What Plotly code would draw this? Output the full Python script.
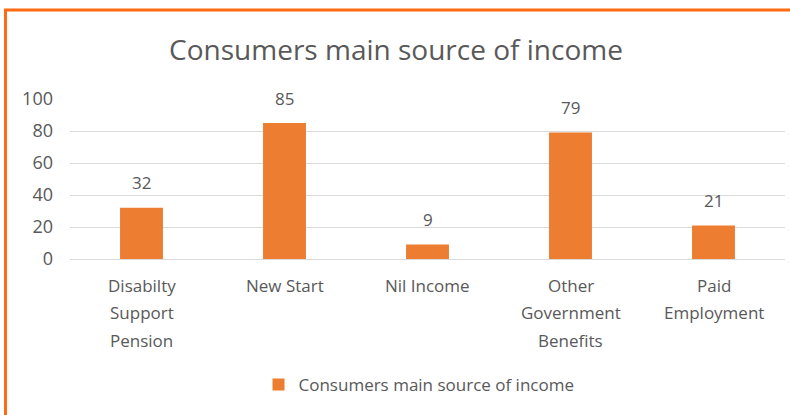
import plotly.graph_objects as go

# Chart data
categories = [
    "Disabilty Support Pension",
    "New Start",
    "Nil Income",
    "Other Government Benefits",
    "Paid Employment",
]
category_lines = [
    ["Disabilty", "Support", "Pension"],
    ["New Start"],
    ["Nil Income"],
    ["Other", "Government", "Benefits"],
    ["Paid", "Employment"],
]
values = [32, 85, 9, 79, 21]
series_name = "Consumers main source of income"
y_ticks = [0, 20, 40, 60, 80, 100]

BAR_COLOR = "#ED7D31"
TEXT_COLOR = "#595959"
GRID_COLOR = "#D9D9D9"
BORDER_COLOR = "#FF6A13"
FONT = "Open Sans"

fig = go.Figure()
fig.add_trace(go.Bar(
    x=categories,
    y=values,
    name=series_name,
    marker=dict(color=BAR_COLOR, line=dict(width=0)),
    showlegend=True,
))

# value labels above each bar
for c, v in zip(categories, values):
    fig.add_annotation(
        x=c, y=v, text=str(v), showarrow=False,
        yshift=25, font=dict(family=FONT, size=17, color=TEXT_COLOR),
    )

# category labels, one line at a time for wider line spacing
for c, lines in zip(categories, category_lines):
    for i, line in enumerate(lines):
        fig.add_annotation(
            x=c, y=0, yref="paper", text=line, showarrow=False,
            xanchor="center", yanchor="middle",
            yshift=-(26 + 27.5 * i),
            font=dict(family=FONT, size=17, color=TEXT_COLOR),
        )

# plot area geometry in pixels (for the outer frame lines)
W, H = 790, 415
L, R, T, B = 70, 5, 99, 156
pw, ph = W - L - R, H - T - B

def px_x(x):
    return (x - L) / pw

def px_y(y):
    return (H - B - y) / ph

# orange frame: top and left edges
fig.add_shape(type="line", xref="paper", yref="paper",
              x0=px_x(4), x1=px_x(800), y0=px_y(10), y1=px_y(10),
              line=dict(color=BORDER_COLOR, width=3))
fig.add_shape(type="line", xref="paper", yref="paper",
              x0=px_x(5.5), x1=px_x(5.5), y0=px_y(9), y1=px_y(420),
              line=dict(color=BORDER_COLOR, width=3))

fig.update_layout(
    width=W, height=H,
    margin=dict(l=L, r=R, t=T, b=B),
    paper_bgcolor="white",
    plot_bgcolor="white",
    bargap=0.7,
    title=dict(
        text="Consumers main source of income",
        x=396 / W, xref="container", xanchor="center",
        y=1 - 50 / H, yanchor="middle",
        font=dict(family=FONT, size=28, color=TEXT_COLOR),
    ),
    font=dict(family=FONT, color=TEXT_COLOR),
    xaxis=dict(
        showgrid=False,
        showline=False,
        ticks="",
        showticklabels=False,
        fixedrange=True,
    ),
    yaxis=dict(
        range=[0, 100],
        tickvals=y_ticks,
        showgrid=True,
        gridcolor=GRID_COLOR,
        gridwidth=1,
        zeroline=True,
        zerolinecolor=GRID_COLOR,
        zerolinewidth=1,
        showline=False,
        ticks="",
        ticklen=0,
        ticklabelstandoff=16,
        tickfont=dict(family=FONT, size=18, color=TEXT_COLOR),
        fixedrange=True,
    ),
    legend=dict(
        orientation="h",
        x=px_x(419), xanchor="center",
        y=px_y(385), yanchor="middle",
        font=dict(family=FONT, size=17, color=TEXT_COLOR),
        itemwidth=30,
    ),
)

fig.write_html("out.html")
